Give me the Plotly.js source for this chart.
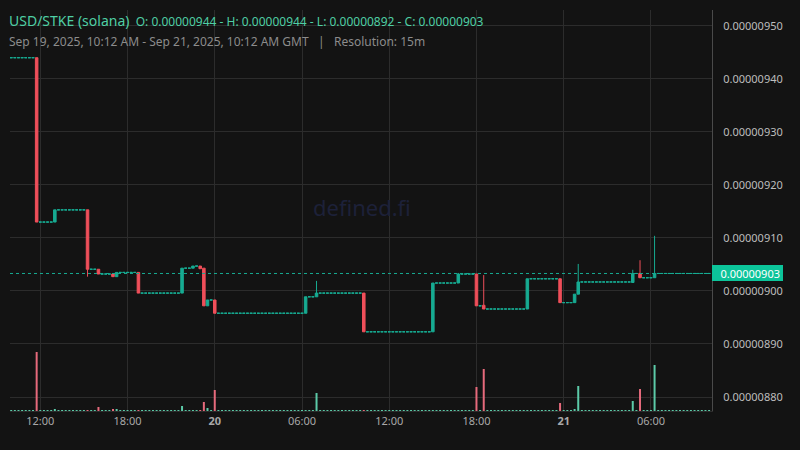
<!DOCTYPE html>
<html><head><meta charset="utf-8">
<script src="https://cdn.plot.ly/plotly-3.0.1.min.js"></script>
<style>html,body{margin:0;padding:0;background:#131313;}#chart{width:800px;height:450px;}</style>
</head><body><div id="chart"></div>
<script>
// Traded 15-minute candles (prices in units of 1e-8)
const tradeTimes = ['2025-09-19 11:45','2025-09-19 13:00','2025-09-19 15:15','2025-09-19 16:00','2025-09-19 17:00','2025-09-19 17:15','2025-09-19 18:45','2025-09-19 21:45','2025-09-19 22:30','2025-09-19 23:00','2025-09-19 23:15','2025-09-19 23:30','2025-09-20 00:00','2025-09-20 06:15','2025-09-20 07:00','2025-09-20 10:15','2025-09-20 15:00','2025-09-20 16:45','2025-09-20 18:00','2025-09-20 18:30','2025-09-20 21:30','2025-09-20 23:45','2025-09-21 00:45','2025-09-21 01:00','2025-09-21 04:45','2025-09-21 05:15','2025-09-21 06:15'];
const tradeOpen  = [944, 913, 915.3, 904.1, 903.2, 902.7, 903.5, 899.6, 904.3, 904.7, 904.3, 897.2, 898.3, 895.8, 898.9, 899.6, 892.3, 901.5, 903.2, 897.3, 896.6, 902.3, 897.8, 899.4, 901.6, 903.3, 902.5];
const tradeHigh  = [944, 915.3, 915.3, 904.1, 903.2, 903.5, 903.5, 904.3, 904.7, 904.7, 904.3, 898.3, 898.3, 898.9, 901.9, 899.6, 901.5, 903.4, 903.2, 903.0, 902.3, 902.3, 899.4, 905.1, 904.0, 905.8, 910.4];
const tradeLow   = [913, 913, 902.7, 903.2, 902.7, 902.7, 899.6, 899.6, 904.3, 904.2, 897.2, 897.2, 895.8, 895.8, 898.9, 892.3, 892.3, 901.5, 897.2, 896.6, 896.6, 897.8, 897.8, 899.4, 901.6, 902.5, 902.5];
const tradeClose = [913, 915.3, 904.1, 903.2, 902.7, 903.5, 899.6, 904.3, 904.7, 904.2, 897.2, 898.3, 895.8, 898.9, 899.6, 892.3, 901.5, 903.2, 897.2, 896.6, 902.3, 897.8, 899.4, 901.7, 903.3, 902.5, 903.3];
const tradeVolume = [59, 2, 1, 4, 2, 2, 1, 5, 1, 1, 9, 3, 21, 1, 18, 1, 1, 1, 24, 42, 1, 8, 2, 25, 10, 22, 46];
const startPrice = 944;      // price shown before the first trade
const flatVolume = 1;        // tiny bars drawn for candles without trades
const slotFirst = '2025-09-19 10:00';
const slotLast  = '2025-09-21 10:00';
const xTickVals = ['2025-09-19 12:00','2025-09-19 18:00','2025-09-20 00:00','2025-09-20 06:00','2025-09-20 12:00','2025-09-20 18:00','2025-09-21 00:00','2025-09-21 06:00'];
const xTickText = ['12:00','18:00','<b>20</b>','06:00','12:00','18:00','<b>21</b>','06:00'];
const yTickVals = [880, 890, 900, 910, 920, 930, 940, 950];
const headerTitle = 'USD/STKE (solana)';
const headerOHLC = 'O: 0.00000944 - H: 0.00000944 - L: 0.00000892 - C: 0.00000903';
const headerSub = 'Sep 19, 2025, 10:12 AM - Sep 21, 2025, 10:12 AM GMT\u00a0\u00a0\u00a0|\u00a0\u00a0\u00a0Resolution: 15m';

const S = 1e-8;
const GREEN = '#17ab92', RED = '#ef4f5a';
const VGREEN = '#5ccaa8', VRED = '#e66a7c';

function fmt(ms){ return new Date(ms).toISOString().slice(0,16).replace('T',' '); }
const t0 = Date.parse(slotFirst.replace(' ','T')+':00Z');
const t1 = Date.parse(slotLast.replace(' ','T')+':00Z');

const flatX=[], flatP=[], tX=[], tO=[], tH=[], tL=[], tC=[];
const volX=[], volY=[], volC=[];
let last = startPrice;
for (let t=t0; t<=t1; t+=900000){
  const s = fmt(t);
  const i = tradeTimes.indexOf(s);
  if (i>=0){
    tX.push(s); tO.push(tradeOpen[i]*S); tH.push(tradeHigh[i]*S); tL.push(tradeLow[i]*S); tC.push(tradeClose[i]*S);
    volX.push(s); volY.push(tradeVolume[i]); volC.push(tradeClose[i]>=tradeOpen[i]?VGREEN:VRED);
    last = tradeClose[i];
  } else {
    flatX.push(s); flatP.push(last*S);
    volX.push(s); volY.push(flatVolume); volC.push(VGREEN);
  }
}
const lastClose = tradeClose[tradeClose.length-1];

const traces = [
  {type:'bar', x:volX, y:volY, yaxis:'y2', marker:{color:volC, line:{width:0}}, width:495000, hoverinfo:'skip', showlegend:false},
  {type:'candlestick', x:flatX, open:flatP, high:flatP, low:flatP, close:flatP,
   increasing:{line:{color:GREEN,width:1},fillcolor:GREEN}, decreasing:{line:{color:GREEN,width:1},fillcolor:GREEN},
   whiskerwidth:0, hoverinfo:'skip', showlegend:false},
  {type:'candlestick', x:tX, open:tO, high:tH, low:tL, close:tC,
   increasing:{line:{color:GREEN,width:1},fillcolor:GREEN}, decreasing:{line:{color:RED,width:1},fillcolor:RED},
   whiskerwidth:0, hoverinfo:'skip', showlegend:false}
];

const layout = {
  width:800, height:450,
  margin:{l:10, r:88, t:10, b:39},
  paper_bgcolor:'#131313', plot_bgcolor:'#131313',
  font:{family:'"Noto Sans", "Open Sans", sans-serif', color:'#b5b5b5', size:11},
  showlegend:false,
  boxgap:0.3, boxgroupgap:0,
  xaxis:{type:'date', range:['2025-09-19 09:55','2025-09-21 10:12'], rangeslider:{visible:false},
    tickvals:xTickVals, ticktext:xTickText, showgrid:true, gridcolor:'#2c2c2c', gridwidth:1,
    ticks:'', tickfont:{size:11, color:'#a8a8a8'}, showline:true, linecolor:'#2c2c2c', zeroline:false, fixedrange:true},
  yaxis:{side:'right', range:[877.36*S, 953.0*S], tickvals:yTickVals.map(v=>v*S), tickformat:'.8f',
    showgrid:true, gridcolor:'#2c2c2c', gridwidth:1, ticks:'', ticklabelstandoff:8,
    tickfont:{size:11, color:'#bdbdbd'}, showline:true, linecolor:'#4a4a4a', zeroline:false, fixedrange:true},
  yaxis2:{overlaying:'y', range:[0,401], visible:false, fixedrange:true},
  shapes:[
    {type:'line', xref:'paper', x0:0, x1:1, yref:'y', y0:lastClose*S, y1:lastClose*S, line:{color:GREEN, width:1, dash:'dot'}}
  ],
  annotations:[
    {xref:'paper', yref:'paper', x:0.5014, y:0.5087, text:'defined.fi', showarrow:false, font:{size:22, color:'#1d2139'}},
    {xref:'paper', yref:'paper', x:0, y:1, xanchor:'left', yanchor:'middle', xshift:-3, yshift:-10, showarrow:false,
     text:'<span style="font-size:14px">'+headerTitle+'</span>\u00a0\u00a0'+headerOHLC, font:{size:12, color:'#4fcfa5'}},
    {xref:'paper', yref:'paper', x:0, y:1, xanchor:'left', yanchor:'middle', xshift:-3, yshift:-31, showarrow:false,
     text:headerSub, font:{size:12, color:'#8c8c8c'}},
    {xref:'paper', yref:'y', x:1, y:lastClose*S, xanchor:'left', yanchor:'middle', showarrow:false,
     text:(lastClose*S).toFixed(8), bgcolor:'#0cc49a', borderpad:3, borderwidth:0, width:65, height:10, align:'right',
     font:{size:11, color:'#ffffff'}}
  ]
};
Plotly.newPlot('chart', traces, layout, {displayModeBar:false, staticPlot:true});
</script></body></html>
